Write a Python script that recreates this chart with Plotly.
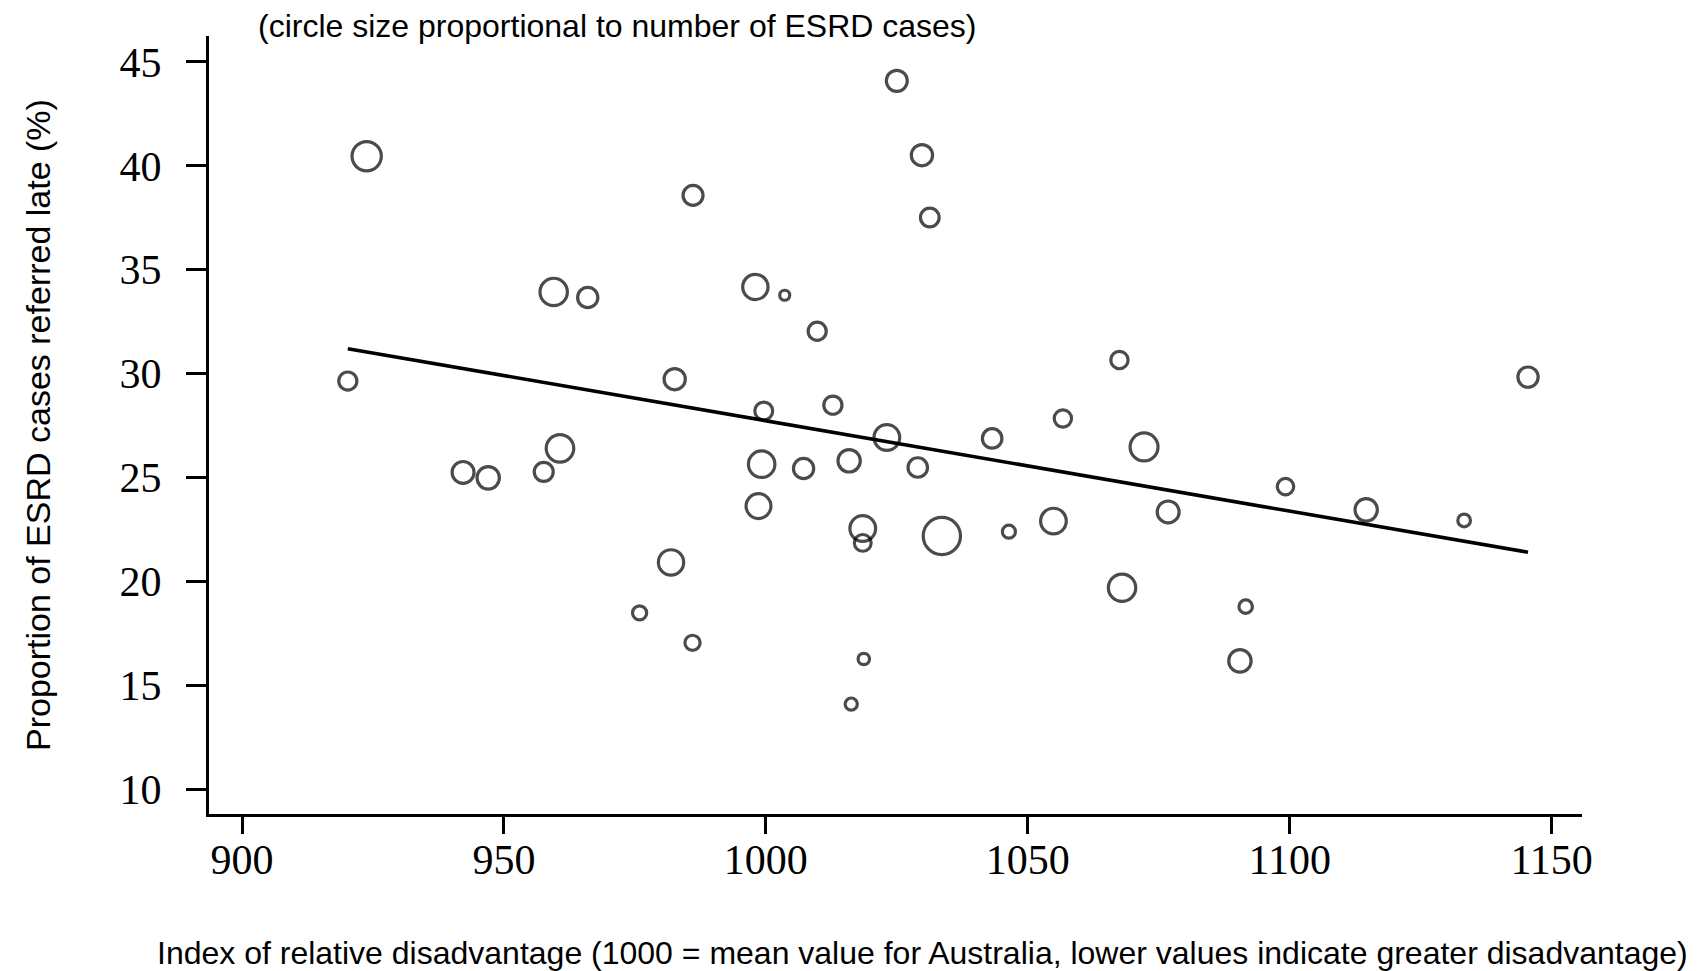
import plotly.graph_objects as go

# Index of relative disadvantage (x), proportion referred late % (y), number of ESRD cases (circle size)
disadvantage_index = [923.8, 920.2, 942.2, 947.0, 957.6, 960.7, 959.5, 966.0, 982.6, 986.1,
                      981.9, 975.9, 986.0, 998.0, 1003.6, 1009.8, 999.6, 999.2, 998.6, 1007.2,
                      1012.8, 1015.9, 1023.1, 1029.0, 1018.5, 1018.5, 1033.6, 1018.7, 1016.3, 1025.0,
                      1029.8, 1031.3, 1043.2, 1046.4, 1054.9, 1056.7, 1067.5, 1072.2, 1076.8, 1068.0,
                      1090.5, 1091.6, 1099.2, 1114.6, 1133.3, 1145.5]
late_referral_pct = [40.46, 29.64, 25.24, 24.98, 25.27, 26.40, 33.93, 33.66, 29.73, 38.58,
                     20.91, 18.48, 17.04, 34.17, 33.77, 32.04, 28.20, 25.64, 23.62, 25.43,
                     28.48, 25.80, 26.92, 25.48, 22.54, 21.85, 22.18, 16.26, 14.09, 44.09,
                     40.51, 37.51, 26.88, 22.39, 22.90, 27.84, 30.65, 26.47, 23.34, 19.69,
                     16.17, 18.78, 24.56, 23.44, 22.93, 29.83]
esrd_cases = [86, 33, 48, 50, 36, 76, 75, 41, 45, 40,
              64, 20, 23, 64, 10, 33, 32, 70, 62, 41,
              33, 50, 66, 38, 66, 28, 139, 13, 15, 44,
              45, 35, 38, 17, 66, 30, 30, 78, 48, 75,
              50, 18, 27, 50, 16, 41]

# Fitted regression line (end points)
fit_x = [920.2, 1145.5]
fit_y = [31.2, 21.4]

x_ticks = [900, 950, 1000, 1050, 1100, 1150]
y_ticks = [10, 15, 20, 25, 30, 35, 40, 45]

fig = go.Figure()
fig.add_trace(go.Scatter(
    x=disadvantage_index, y=late_referral_pct, mode="markers",
    marker=dict(size=esrd_cases, sizemode="area", sizeref=0.2,
                color="rgba(0,0,0,0)", line=dict(color="black", width=3.2)),
    hoverinfo="x+y+text", text=[f"cases: {c}" for c in esrd_cases],
    showlegend=False))
fig.add_trace(go.Scatter(
    x=fit_x, y=fit_y, mode="lines",
    line=dict(color="black", width=3.6), showlegend=False, hoverinfo="skip"))

tickfont = dict(family="Liberation Serif, Times New Roman, serif", size=42, color="black")
sans = "Liberation Sans, Arial, sans-serif"

# the page adds an 8px body margin, so the figure is drawn 8px smaller with margins reduced
fig.update_layout(
    width=1689, height=963,
    margin=dict(l=201, r=115, t=28, b=157),
    paper_bgcolor="white", plot_bgcolor="white",
    xaxis=dict(range=[893.7, 1155.8], tickvals=x_ticks, ticktext=[str(v) for v in x_ticks],
               showgrid=False, zeroline=False, showline=True, linecolor="black", linewidth=3,
               ticks="outside", ticklen=17, tickwidth=2.5, tickcolor="black",
               tickfont=tickfont, ticklabelstandoff=-10),
    yaxis=dict(range=[8.8, 46.25], tickvals=y_ticks, ticktext=[str(v) for v in y_ticks],
               showgrid=False, zeroline=False, showline=True, linecolor="black", linewidth=3,
               ticks="outside", ticklen=20, tickwidth=2.5, tickcolor="black",
               tickfont=tickfont, ticklabelstandoff=16),
    annotations=[
        dict(text="(circle size proportional to number of ESRD cases)", xref="paper", yref="paper",
             x=0, y=1, xanchor="left", yanchor="middle", xshift=47, yshift=10, showarrow=False,
             font=dict(family=sans, size=32, color="black")),
        dict(text="Proportion of ESRD cases referred late (%)", xref="paper", yref="paper",
             x=0, y=0.5, xanchor="center", yanchor="middle", xshift=-171, textangle=-90,
             showarrow=False, font=dict(family=sans, size=34, color="black")),
        dict(text="Index of relative disadvantage (1000 = mean value for Australia, lower values indicate greater disadvantage)",
             xref="paper", yref="paper", x=0.5237, y=0, xanchor="center", yanchor="middle",
             xshift=-6, yshift=-139, showarrow=False, font=dict(family=sans, size=32, color="black")),
    ],
)

fig.write_html("out.html")
